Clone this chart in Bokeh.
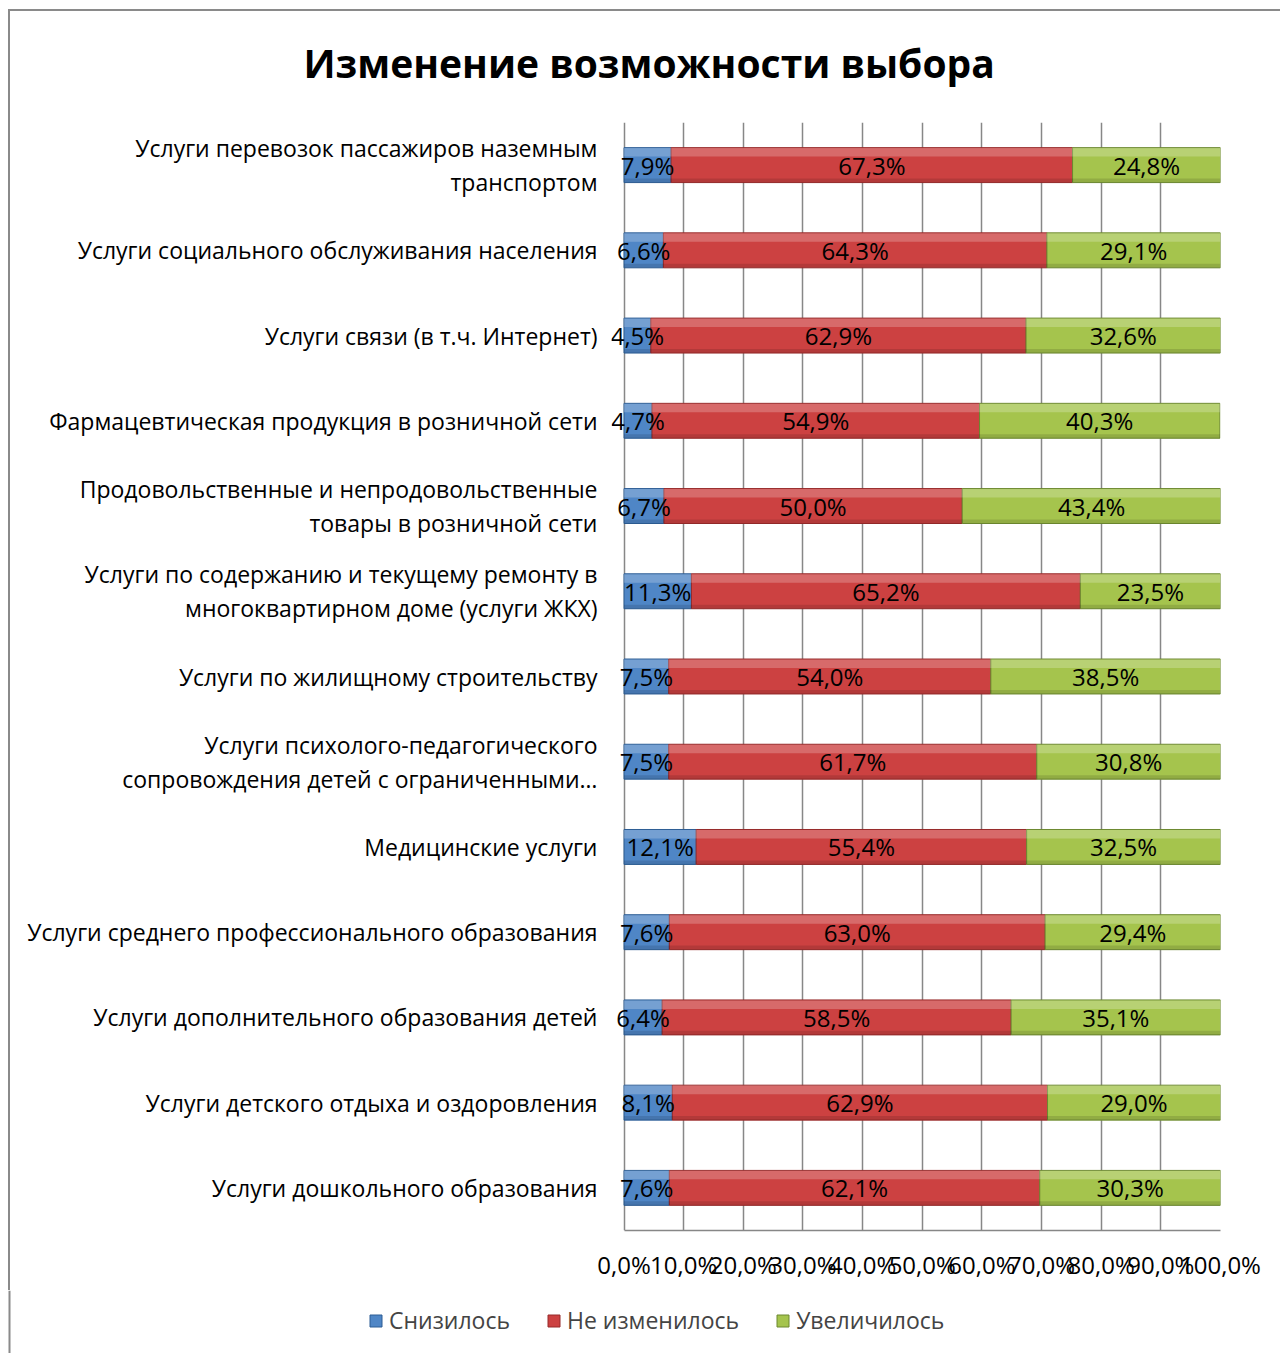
from bokeh.plotting import figure
from bokeh.models import (ColumnDataSource, FactorRange, FixedTicker, LabelSet,
                          Legend, LegendItem, Range1d, Span)
from bokeh.transform import dodge
from bokeh.core.properties import value
from bokeh.embed import file_html
from bokeh.resources import INLINE

# ---- data (top to bottom as in the picture) ----
categories = [
    "Услуги перевозок пассажиров наземным\nтранспортом",
    "Услуги социального обслуживания населения",
    "Услуги связи (в т.ч. Интернет)",
    "Фармацевтическая продукция в розничной сети",
    "Продовольственные и непродовольственные\nтовары в розничной сети",
    "Услуги по содержанию и текущему ремонту в\nмногоквартирном доме (услуги ЖКХ)",
    "Услуги по жилищному строительству",
    "Услуги психолого-педагогического\nсопровождения детей с ограниченными…",
    "Медицинские услуги",
    "Услуги среднего профессионального образования",
    "Услуги дополнительного образования детей",
    "Услуги детского отдыха и оздоровления",
    "Услуги дошкольного образования",
]
decreased = [7.9, 6.6, 4.5, 4.7, 6.7, 11.3, 7.5, 7.5, 12.1, 7.6, 6.4, 8.1, 7.6]
unchanged = [67.3, 64.3, 62.9, 54.9, 50.0, 65.2, 54.0, 61.7, 55.4, 63.0, 58.5, 62.9, 62.1]
increased = [24.8, 29.1, 32.6, 40.3, 43.4, 23.5, 38.5, 30.8, 32.5, 29.4, 35.1, 29.0, 30.3]
series_names = ["Снизилось", "Не изменилось", "Увеличилось"]
x_ticks = [0, 10, 20, 30, 40, 50, 60, 70, 80, 90, 100]
x_tick_labels = ["0,0%", "10,0%", "20,0%", "30,0%", "40,0%", "50,0%", "60,0%",
                 "70,0%", "80,0%", "90,0%", "100,0%"]
title_text = "Изменение возможности выбора"

FONT = "Open Sans"
colors = ["#4f86c6", "#cc4141", "#a5c44d"]
edge = ["#2d5d94", "#962a2a", "#6c8830"]
BORDER = "#8a8a8a"

factors = list(reversed(categories))  # first category on top

# segment bounds derived from the values
s1 = [a + b for a, b in zip(decreased, unchanged)]
s2 = [a + b + c for a, b, c in zip(decreased, unchanged, increased)]
src = ColumnDataSource(dict(cat=categories, dec=decreased, same=unchanged, inc=increased,
                            z=[0] * len(categories), e0=decreased, e1=s1, e2=s2))

p = figure(width=1280, height=1290, output_backend="svg", toolbar_location=None,
           y_range=FactorRange(factors=factors, range_padding=0),
           x_range=Range1d(-2.1, 100), min_border_left=611, min_border_right=60,
           min_border_top=122, min_border_bottom=60, outline_line_color=None)
p.background_fill_color = "white"
p.border_fill_alpha = 0
p.styles = {"background": f"linear-gradient({BORDER},{BORDER}) 8px 9px / 2px 100% no-repeat, "
                          f"linear-gradient({BORDER},{BORDER}) 8px 9px / 100% 2px no-repeat, white"}

# vertical grid (also acts as the value axis line at 0)
p.xgrid.ticker = FixedTicker(ticks=x_ticks)
p.xgrid.grid_line_color = "#878787"
p.xgrid.grid_line_width = 1.5
p.ygrid.grid_line_color = None

rends = p.hbar_stack(["dec", "same", "inc"], y="cat", height=0.41, source=src,
                     fill_color=colors, line_color=edge, line_width=1)

# bevel shading of the bars (same segments, light top band, dark bottom band)
for l, r in (("z", "e0"), ("e0", "e1"), ("e1", "e2")):
    p.hbar(y=dodge("cat", 0.15, range=p.y_range), left=l, right=r, height=0.1,
           source=src, fill_color="white", fill_alpha=0.22, line_color=None)
    p.hbar(y=dodge("cat", -0.18, range=p.y_range), left=l, right=r, height=0.045,
           source=src, fill_color="black", fill_alpha=0.12, line_color=None)

# data labels (centres of segments computed from data)
lx, ly, lt = [], [], []
for k, a, b, c in zip(categories, decreased, unchanged, increased):
    for start, v in ((0, a), (a, b), (a + b, c)):
        lx.append(start + v / 2)
        ly.append(k)
        lt.append(f"{v:.1f}".replace(".", ",") + "%")
lsrc = ColumnDataSource(dict(x=lx, y=ly, t=lt))
p.add_layout(LabelSet(x="x", y="y", text="t", source=lsrc, text_align="center",
                      text_baseline="middle", text_font=value(FONT),
                      text_font_size=value("24px"), text_color="black"))

# axes
p.xaxis.ticker = FixedTicker(ticks=x_ticks)
p.xaxis.bounds = (0, 100)
p.xaxis.major_label_overrides = {t: l for t, l in zip(x_ticks, x_tick_labels)}
p.xaxis.major_label_text_font = FONT
p.xaxis.major_label_text_font_size = "24px"
p.xaxis.major_label_text_color = "black"
p.xaxis.major_label_standoff = 11
p.xaxis.major_tick_line_color = None
p.xaxis.minor_tick_line_color = None
p.xaxis.axis_line_color = "#878787"
p.xaxis.axis_line_width = 1.5

p.yaxis.major_label_text_font = FONT
p.yaxis.major_label_text_font_size = "23px"
p.yaxis.major_label_text_line_height = 1.05
p.yaxis.major_label_text_color = "black"
p.yaxis.major_label_standoff = 8
p.yaxis.major_tick_line_color = None
p.yaxis.axis_line_color = None

# title
p.title.text = title_text
p.title.align = "left"
p.title.offset = -308
p.title.standoff = 66
p.title.vertical_align = "middle"
p.title.text_font = FONT
p.title.text_font_size = "39px"
p.title.text_font_style = "bold"
p.title.text_color = "black"

# legend strip (own small figure below the chart); its bar renderers use the same
# data but are hidden, so only the legend shows
q = figure(width=1280, height=63, output_backend="svg", toolbar_location=None,
           x_range=Range1d(0, 1280), y_range=FactorRange(factors=factors),
           min_border=0, min_border_left=0, min_border_right=0,
           min_border_top=0, min_border_bottom=0, outline_line_color=None,
           x_axis_type=None, y_axis_type=None)
q.grid.visible = False
q.background_fill_color = "white"
q.border_fill_color = "white"
leg_rends = q.hbar_stack(["dec", "same", "inc"], y="cat", height=0.41, source=src,
                         fill_color=colors, line_color=edge, line_width=1)
for r in leg_rends:
    r.visible = False
legend = Legend(items=[LegendItem(label=n, renderers=[r]) for n, r in zip(series_names, leg_rends)],
                location=(368, 17), orientation="horizontal", padding=0, margin=0,
                spacing=36, label_standoff=6, glyph_width=15, glyph_height=15,
                label_height=28, label_text_font=FONT, label_text_font_size="23px",
                border_line_color=None, background_fill_alpha=0, inactive_fill_alpha=0)
q.add_layout(legend, "center")
# continuation of the chart's outer frame line
q.add_layout(Span(location=9, dimension="height", line_color=BORDER, line_width=2))

open("out.html", "w").write(file_html([p, q], INLINE))
